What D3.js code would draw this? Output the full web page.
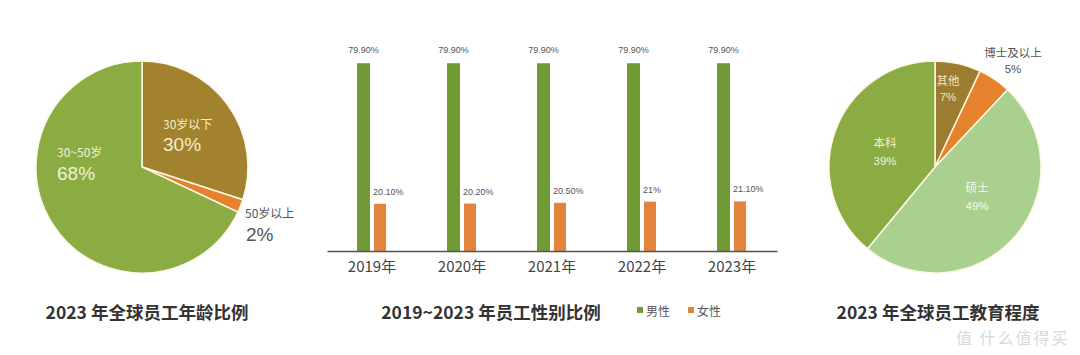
<!DOCTYPE html>
<html><head><meta charset="utf-8">
<script src="https://cdn.jsdelivr.net/npm/d3@7"></script>
<style>body{margin:0;background:#fff}svg{display:block}</style>
</head><body>
<svg id="c" width="1080" height="355"></svg>
<script>
// ---- data ----
const ageLabels = ["30岁以下", "50岁以上", "30~50岁"];
const ageValues = [30, 2, 68];
const years = ["2019年", "2020年", "2021年", "2022年", "2023年"];
const maleValues = [79.9, 79.9, 79.9, 79.9, 79.9];
const femaleValues = [20.1, 20.2, 20.5, 21, 21.1];
const maleText = ["79.90%", "79.90%", "79.90%", "79.90%", "79.90%"];
const femaleText = ["20.10%", "20.20%", "20.50%", "21%", "21.10%"];
const eduLabels = ["其他", "博士及以上", "硕士", "本科"];
const eduValues = [7, 5, 49, 39];
const titles = ["2023 年全球员工年龄比例", "2019~2023 年员工性别比例", "2023 年全球员工教育程度"];
const legendNames = ["男性", "女性"];

const svg = d3.select("#c");
const FONT = "'Noto Sans CJK SC','Noto Sans',sans-serif";
const NUMFONT = "'Liberation Sans','Noto Sans CJK SC',sans-serif";

const pie = d3.pie().sort(null).value(d => d);

// ---- pie 1 ----
const ageColors = ["#a3822f", "#e6822c", "#8aac43"];
const g1 = svg.append("g").attr("transform", "translate(142,167)");
const arc1 = d3.arc().innerRadius(0).outerRadius(106);
g1.selectAll("path").data(pie(ageValues)).join("path")
  .attr("d", arc1).attr("fill", (d, i) => ageColors[i])
  .attr("stroke", "#fdf8e4").attr("stroke-width", 1.5);
const ageLabelPos = [[21, -38, 21, -16, "#f6edc9"], [103, 51, 104, 74, "#555"], [-85, -10, -85, 13, "#eef3d5"]];
ageLabelPos.forEach((p, i) => {
  g1.append("text").attr("x", p[0]).attr("y", p[1]).attr("font-family", FONT)
    .attr("font-size", 12).attr("fill", p[4]).text(ageLabels[i]);
  g1.append("text").attr("x", p[2]).attr("y", p[3]).attr("font-family", NUMFONT)
    .attr("font-size", 19).attr("fill", p[4]).text(ageValues[i] + "%");
});

// ---- bar chart ----
const x = d3.scaleBand().domain(years).range([327, 777]);
const y = d3.scaleLinear().domain([0, 100]).range([251, 16]);
const gb = svg.append("g");
gb.selectAll("rect.m").data(maleValues).join("rect").attr("class", "m")
  .attr("x", (d, i) => x(years[i]) + x.bandwidth() / 2 - 15).attr("width", 13)
  .attr("y", d => y(d)).attr("height", d => y(0) - y(d)).attr("fill", "#6f9a36");
gb.selectAll("rect.f").data(femaleValues).join("rect").attr("class", "f")
  .attr("x", (d, i) => x(years[i]) + x.bandwidth() / 2 + 2).attr("width", 12)
  .attr("y", d => y(d)).attr("height", d => y(0) - y(d)).attr("fill", "#e3843d");
gb.selectAll("text.m").data(maleValues).join("text").attr("class", "m")
  .attr("x", (d, i) => x(years[i]) + x.bandwidth() / 2 - 8.5).attr("y", d => y(d) - 10)
  .attr("text-anchor", "middle").attr("font-family", NUMFONT).attr("font-size", 9)
  .attr("fill", "#555").text((d, i) => maleText[i]);
gb.selectAll("text.f").data(femaleValues).join("text").attr("class", "f")
  .attr("x", (d, i) => x(years[i]) + x.bandwidth() / 2 + 1).attr("y", d => y(d) - 9)
  .attr("font-family", NUMFONT).attr("font-size", 9)
  .attr("fill", "#555").text((d, i) => femaleText[i]);
const ax = svg.append("g").attr("transform", "translate(0,251)")
  .call(d3.axisBottom(x).tickSize(0).tickPadding(10));
ax.select(".domain").attr("stroke", "#555").attr("stroke-width", 1.5);
ax.selectAll("text").attr("font-family", FONT).attr("font-size", 15).attr("fill", "#444");

// ---- pie 3 ----
const eduColors = ["#9c7c2f", "#e6822c", "#a9d08e", "#8aac43"];
const g3 = svg.append("g").attr("transform", "translate(935,167)");
g3.selectAll("path").data(pie(eduValues)).join("path")
  .attr("d", arc1).attr("fill", (d, i) => eduColors[i])
  .attr("stroke", "#fdf8e4").attr("stroke-width", 1.5);
const eduPos = [[13, -82, 13, -66, "#f3e7bf"], [78, -110, 78, -94, "#555"], [42, 25, 42, 43, "#f4f8ea"], [-50, -20, -50, -2, "#eef3d5"]];
eduPos.forEach((p, i) => {
  g3.append("text").attr("x", p[0]).attr("y", p[1]).attr("text-anchor", "middle").attr("font-family", FONT)
    .attr("font-size", 11.5).attr("fill", p[4]).text(eduLabels[i]);
  g3.append("text").attr("x", p[2]).attr("y", p[3]).attr("text-anchor", "middle").attr("font-family", NUMFONT)
    .attr("font-size", 11.5).attr("fill", p[4]).text(eduValues[i] + "%");
});

// ---- titles & legend ----
const titleX = [147, 491, 938];
titles.forEach((t, i) => {
  svg.append("text").attr("x", titleX[i]).attr("y", 319).attr("text-anchor", "middle")
    .attr("font-family", FONT).attr("font-size", 17.5).attr("font-weight", "bold")
    .attr("fill", "#333").text(t);
});
const legColors = ["#6f9a36", "#e3843d"];
legendNames.forEach((n, i) => {
  const lx = 637 + i * 51;
  svg.append("rect").attr("x", lx).attr("y", 307).attr("width", 6).attr("height", 6).attr("fill", legColors[i]);
  svg.append("text").attr("x", lx + 9).attr("y", 316).attr("font-family", FONT)
    .attr("font-size", 12).attr("fill", "#555").text(n);
});
svg.append("text").attr("x", 956).attr("y", 344)
  .attr("font-family", FONT).attr("font-size", 16).attr("letter-spacing", 2)
  .attr("fill", "#d9d9d9").text("值 什么值得买");
</script>
</body></html>
